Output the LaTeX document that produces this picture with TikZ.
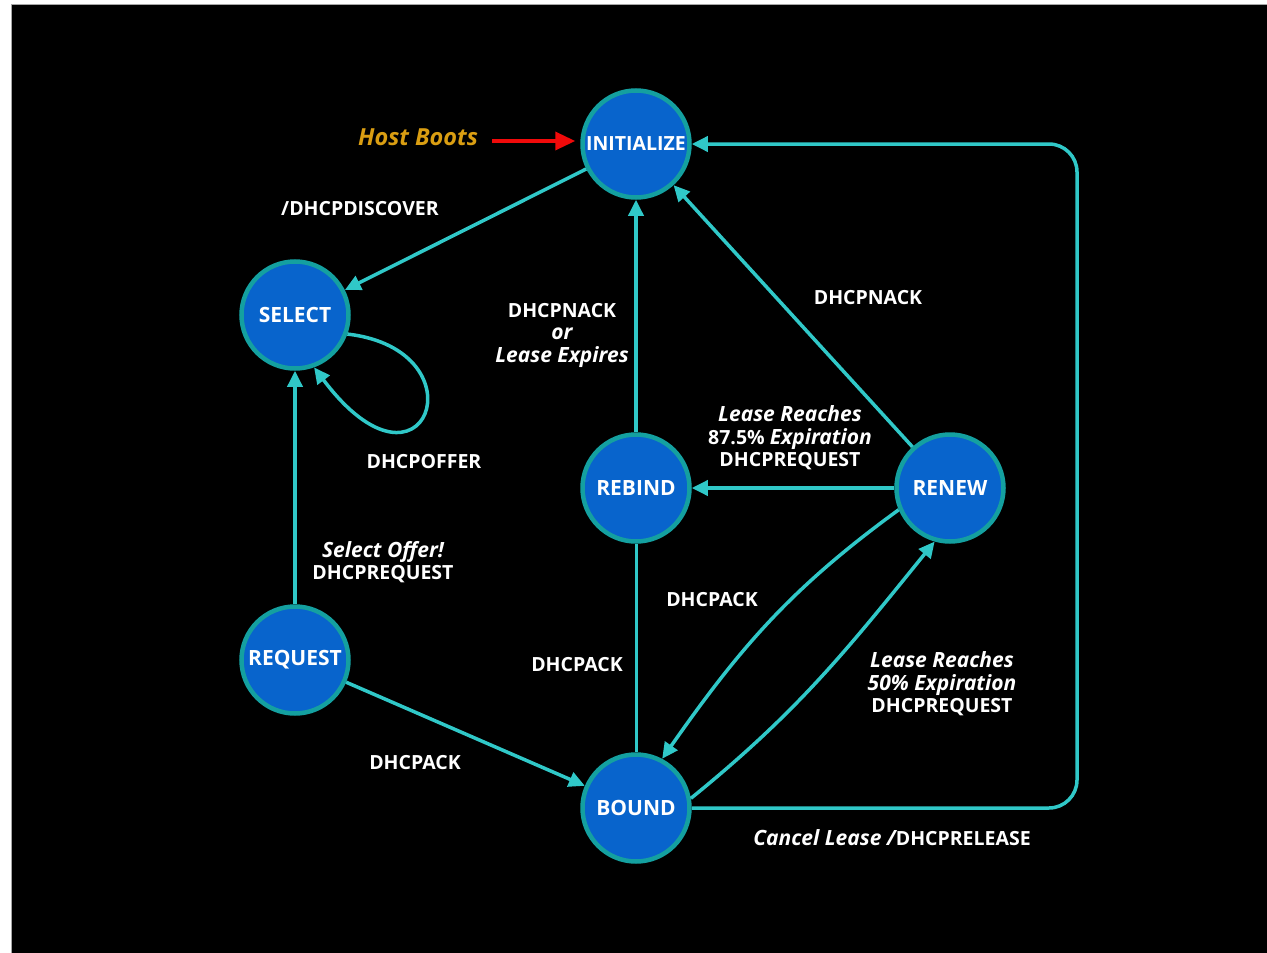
\documentclass[tikz,border=0pt]{standalone}
\usepackage{fontspec}
\setmainfont{Open Sans}
\usetikzlibrary{arrows.meta}
\definecolor{nodeblue}{RGB}{8,100,204}
\definecolor{nodeedge}{RGB}{20,160,160}
\definecolor{cyanline}{RGB}{48,200,200}
\definecolor{bootgold}{RGB}{218,158,18}
\definecolor{bootred}{RGB}{240,10,10}
\newcommand\ital[1]{{\fontsize{21}{22.5}\selectfont\itshape #1}}
\begin{document}
\begin{tikzpicture}[x=1pt,y=-1pt,
  state/.style={circle, fill=nodeblue, draw=nodeedge, line width=4.5pt, minimum size=107pt, inner sep=0pt, text=white, font=\fontsize{21}{24}\selectfont\bfseries},
  lbl/.style={text=white, font=\fontsize{19.5}{22.5}\selectfont\bfseries, align=center, inner sep=0pt},
  link/.style={draw=cyanline, line width=3.5pt, -{Triangle[length=16pt,width=15pt]}},
  bootarrow/.style={draw=bootred, line width=3.5pt, -{Triangle[length=20pt,width=18pt]}}
]
\useasboundingbox (0,0) rectangle (1267,953);
\fill[white] (0,0) rectangle (1267,953);
\filldraw[fill=black, draw=gray!70, line width=1pt] (11,4) rectangle (1268,954);

% states
\node[state, font=\fontsize{19.5}{22}\selectfont\bfseries] (init) at (636,144) {INITIALIZE};
\node[state] (select) at (295,315) {SELECT};
\node[state] (request) at (295,660) {REQUEST};
\node[state] (rebind) at (636,488) {REBIND};
\node[state] (renew) at (950,488) {RENEW};
\node[state] (bound) at (636,808) {BOUND};

% host boots
\node[text=bootgold, font=\fontsize{23.5}{26}\selectfont\bfseries\itshape] (hb) at (418,137) {Host Boots};
\coordinate (hbstart) at (492,141);
\draw[bootarrow, shorten >=5pt] (hbstart) -- (init.west |- hbstart);

% connectors
\draw[link] (init) -- (select);
\draw[link] (select.-20) .. controls (485,350) and (425,515) .. (select.-70);
\draw[link] (request) -- (select);
\draw[link] (request) -- (bound);
\draw[link] (rebind) -- (init);
\draw[draw=cyanline, line width=3pt] (rebind) -- (bound);
\draw[link] (renew) -- (rebind);
\draw[link] (renew) -- (init);
\draw[link] (renew.203) to[out=216,in=55] (bound.62);
\draw[link] (bound.10) to[out=39,in=231] (renew.254);
\draw[link, rounded corners=28pt] (bound.east) -- (1077,808) -- (1077,144) -- (init.east);

% labels
\node[lbl] (l1) at (360,209) {/DHCPDISCOVER};
\node[lbl] (l2) at (424,462) {DHCPOFFER};
\node[lbl] (l3) at (383,562) {\ital{Select Offer!}\\DHCPREQUEST};
\node[lbl] (l4) at (415,763) {DHCPACK};
\node[lbl] (l5) at (562,335) {DHCPNACK\\\ital{or}\\\ital{Lease Expires}};
\node[lbl] (l6) at (577,665) {DHCPACK};
\node[lbl] (l7) at (790,438) {\ital{Lease Reaches}\\87.5\% \ital{Expiration}\\DHCPREQUEST};
\node[lbl] (l8) at (868,298) {DHCPNACK};
\node[lbl] (l9) at (712,600) {DHCPACK};
\node[lbl] (l10) at (942,684) {\ital{Lease Reaches}\\\ital{50\% Expiration}\\DHCPREQUEST};
\node[lbl] (l11) at (892,838) {\ital{Cancel Lease /}DHCPRELEASE};
\end{tikzpicture}
\end{document}
